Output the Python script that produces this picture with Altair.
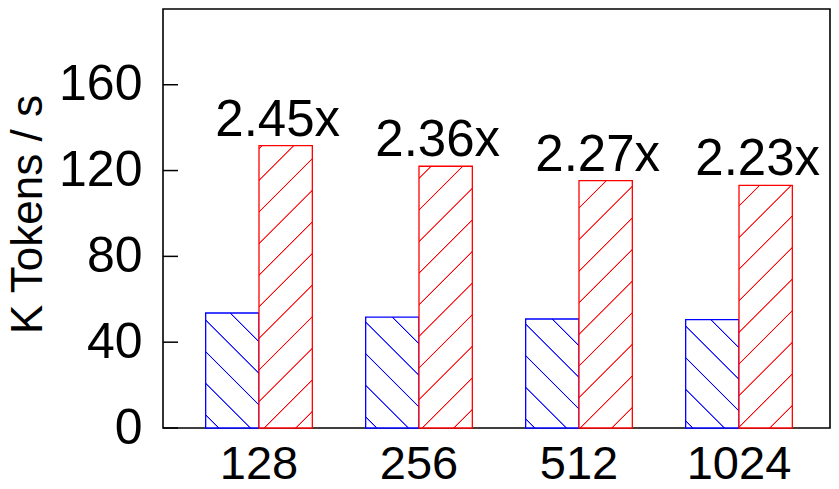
import altair as alt
import pandas as pd

# ---- data ----
categories = ["128", "256", "512", "1024"]
series = ["Baseline", "Ours"]
baseline_vals = [53.6, 51.7, 50.8, 50.5]
ours_vals = [131.6, 122.0, 115.3, 113.1]
speedup_labels = ["2.45x", "2.36x", "2.27x", "2.23x"]
y_ticks = [0, 40, 80, 120, 160]

# ---- style / layout ----
FONT = "Liberation Sans"
colors = {"Baseline": "#0000ff", "Ours": "#ff0000"}
PLOT_W = 667
PLOT_H = 419
Y_MAX = 195.3
PAD_L = 155
PAD_T = 1
PAD_R = 1
PAD_B = 52
STEP = 160.0
OUTER = PLOT_W - len(categories) * STEP          # total outer padding (px)
LEFT_OUTER = 16.0
PADDING_OUTER = OUTER / (2 * STEP)
ALIGN = LEFT_OUTER / OUTER
BAR_W = STEP / 3
HATCH = 31.6
RED_PHASE = 28.6    # page x+y of "/" lines (mod HATCH)
BLUE_PHASE = 12.0   # page x-y of "\" lines (mod HATCH)

rows = []
for i, c in enumerate(categories):
    rows.append({"cat": c, "series": "Baseline", "value": baseline_vals[i], "idx": i, "label": ""})
    rows.append({"cat": c, "series": "Ours", "value": ours_vals[i], "idx": i, "label": speedup_labels[i]})
df = pd.DataFrame(rows)


def make_gradient(color, w, h, phase, forward):
    L = w + h
    k = L / (w * w + h * h)
    if forward:
        x1, y1, x2, y2 = 0, 0, k * w, k * h
    else:
        x1, y1, x2, y2 = 0, 1, k * w, 1 - k * h
    stops = [{"offset": 0, "color": "white"}]
    q = (phase % HATCH) - HATCH
    while q < L + HATCH:
        for off, col in [(q - 1.1, "white"), (q - 0.3, color), (q + 0.3, color), (q + 1.1, "white")]:
            o = off / L
            if 0 < o < 1:
                stops.append({"offset": round(o, 5), "color": col})
        q += HATCH
    stops.append({"offset": 1, "color": "white"})
    return {"gradient": "linear", "x1": x1, "y1": y1, "x2": x2, "y2": y2, "stops": stops}


x_axis = alt.Axis(title=None, labelAngle=0, labelFontSize=47, labelFont=FONT, labelColor="black",
                  ticks=False, tickSize=0, domain=False, labelPadding=50,
                  labelBaseline="alphabetic", labelOverlap=False)
y_axis = alt.Axis(title="K Tokens / s", values=y_ticks, grid=False, ticks=False, tickSize=0,
                  domain=False, labelFontSize=50, labelFont=FONT, labelColor="black",
                  labelPadding=21, labelFlush=False, labelOverlap=False,
                  titleFontSize=44, titleFont=FONT, titleFontWeight="normal", titleColor="black",
                  titleX=-122, titleY=205, titleAngle=270, titleBaseline="alphabetic", titleAlign="center")

x_scale = alt.Scale(domain=categories, paddingInner=0, paddingOuter=PADDING_OUTER, align=ALIGN)
xo_scale = alt.Scale(domain=series, paddingInner=0, paddingOuter=0.5)
y_scale = alt.Scale(domain=[0, Y_MAX], nice=False, zero=True)

base = alt.Chart(df)
layers = []
for i in range(len(categories)):
    for s_idx, s in enumerate(series):
        v = baseline_vals[i] if s == "Baseline" else ours_vals[i]
        h = PLOT_H * v / Y_MAX
        x0 = 8 + PAD_L + LEFT_OUTER + i * STEP + STEP / 6 + s_idx * BAR_W
        ytop = 8 + PAD_T + PLOT_H * (1 - v / Y_MAX)
        if s == "Ours":
            phase = RED_PHASE - x0 - ytop
            grad = make_gradient(colors[s], BAR_W, h, phase, True)
        else:
            phase = BLUE_PHASE - x0 + ytop + h
            grad = make_gradient(colors[s], BAR_W, h, phase, False)
        layer = base.transform_filter(
            (alt.datum.idx == i) & (alt.datum.series == s)
        ).mark_bar(fill=grad, stroke=colors[s], strokeWidth=1.3).encode(
            x=alt.X("cat:N", scale=x_scale, axis=x_axis),
            xOffset=alt.XOffset("series:N", scale=xo_scale),
            y=alt.Y("value:Q", scale=y_scale, axis=y_axis),
        )
        layers.append(layer)

text_layer = base.transform_filter(alt.datum.series == "Ours").mark_text(
    font=FONT, fontSize=51, color="black", dx=-8, dy=-10, baseline="alphabetic", align="center"
).encode(
    x=alt.X("cat:N", scale=x_scale, axis=x_axis),
    xOffset=alt.XOffset("series:N", scale=xo_scale),
    y=alt.Y("value:Q", scale=y_scale, axis=y_axis),
    text="label:N",
)

tick_layer = alt.Chart(pd.DataFrame({"value": y_ticks})).mark_rule(
    color="black", strokeWidth=1.5
).encode(
    y=alt.Y("value:Q", scale=y_scale, axis=y_axis),
    x=alt.value(0),
    x2=alt.value(15),
)

chart = alt.layer(*layers, text_layer, tick_layer).properties(
    width=PLOT_W, height=PLOT_H,
    autosize=alt.AutoSizeParams(type="none"),
    padding={"left": PAD_L, "top": PAD_T, "right": PAD_R, "bottom": PAD_B},
    background="white",
).configure_view(stroke="black", strokeWidth=1.6)

chart.save("out.html", embed_options={"renderer": "svg", "actions": False})
